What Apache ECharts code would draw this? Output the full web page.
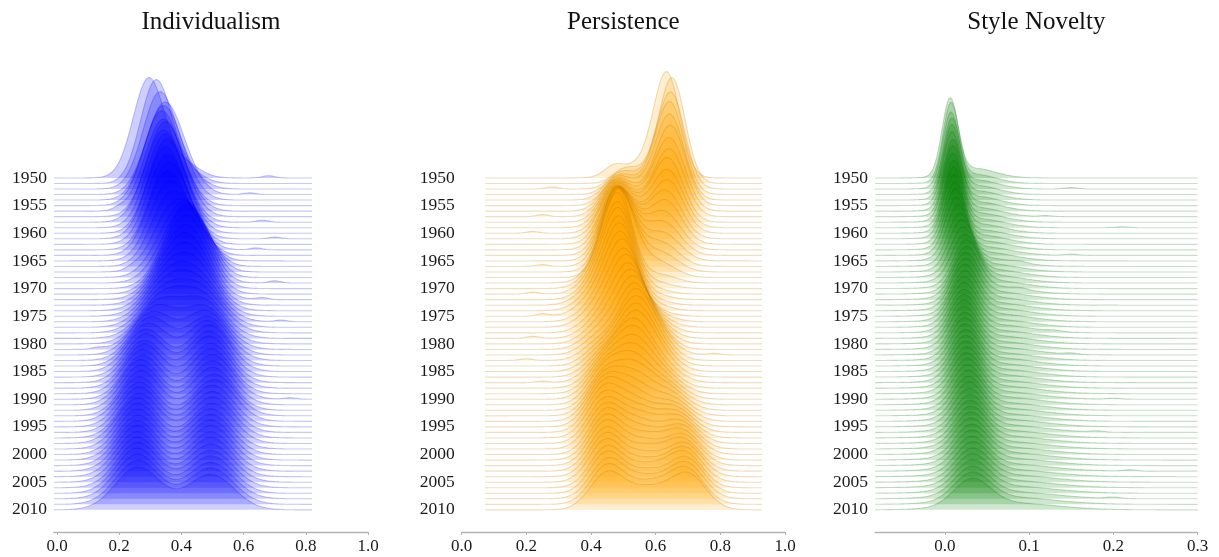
<!DOCTYPE html>
<html>
<head>
<meta charset="utf-8">
<script src="https://cdn.jsdelivr.net/npm/echarts@6/dist/echarts.min.js"></script>
<style>
  html, body { margin: 0; padding: 0; background: #ffffff; }
  #chart { width: 1219px; height: 557px; }
</style>
</head>
<body>
<div id="chart"></div>
<script>
// Years shown as ridges, top (1950) to bottom (2010)
const years = [];
for (let y = 1950; y <= 2010; y++) years.push(y);
const yearTicks = [1950, 1955, 1960, 1965, 1970, 1975, 1980, 1985, 1990, 1995, 2000, 2005, 2010];

const titles = ['Individualism', 'Persistence', 'Style Novelty'];
const xTicksInd = [0.0, 0.2, 0.4, 0.6, 0.8, 1.0];
const xTicksPer = [0.0, 0.2, 0.4, 0.6, 0.8, 1.0];
const xTicksNov = [0.0, 0.1, 0.2, 0.3];

// Individualism: yearly density as two normal components (A left, B right)
const indMeanA = [
  0.295,0.318,0.330,0.345,0.340,0.335,0.340,0.345,0.340,0.345,
  0.350,0.345,0.350,0.355,0.350,0.355,0.360,0.365,0.370,0.375,
  0.380,0.375,0.370,0.365,0.360,0.355,0.350,0.345,0.340,0.335,
  0.325,0.315,0.305,0.300,0.292,0.285,0.285,0.280,0.280,0.275,
  0.275,0.270,0.270,0.270,0.265,0.265,0.265,0.265,0.260,0.260,
  0.260,0.260,0.258,0.258,0.258,0.258,0.260,0.258,0.258,0.260,0.260];
const indSdA = [
  0.050,0.050,0.054,0.058,0.057,0.057,0.058,0.057,0.058,0.057,
  0.057,0.057,0.058,0.058,0.058,0.058,0.059,0.060,0.062,0.064,
  0.064,0.066,0.068,0.070,0.070,0.070,0.070,0.070,0.070,0.070,
  0.068,0.066,0.065,0.064,0.063,0.062,0.062,0.062,0.062,0.062,
  0.062,0.062,0.063,0.063,0.064,0.064,0.064,0.065,0.065,0.065,
  0.065,0.066,0.066,0.066,0.067,0.067,0.068,0.068,0.069,0.070,0.072];
const indMeanB = [
  0.410,0.420,0.430,0.425,0.420,0.420,0.425,0.420,0.420,0.425,
  0.425,0.430,0.435,0.440,0.445,0.450,0.455,0.455,0.450,0.445,
  0.440,0.440,0.440,0.440,0.445,0.450,0.455,0.460,0.465,0.465,
  0.470,0.475,0.480,0.485,0.485,0.490,0.490,0.490,0.495,0.495,
  0.500,0.500,0.500,0.505,0.505,0.500,0.500,0.500,0.500,0.495,
  0.495,0.495,0.495,0.495,0.495,0.495,0.495,0.495,0.495,0.495,0.495];
const indSdB = [
  0.050,0.050,0.050,0.050,0.050,0.050,0.050,0.050,0.050,0.050,
  0.050,0.050,0.050,0.050,0.052,0.053,0.054,0.055,0.056,0.058,
  0.060,0.062,0.064,0.066,0.068,0.070,0.072,0.072,0.072,0.072,
  0.070,0.070,0.068,0.068,0.067,0.066,0.066,0.066,0.066,0.066,
  0.066,0.066,0.066,0.068,0.068,0.068,0.068,0.068,0.068,0.068,
  0.068,0.068,0.068,0.068,0.068,0.070,0.070,0.070,0.072,0.072,0.074];
const indWeightB = [
  0.12,0.10,0.09,0.08,0.08,0.07,0.08,0.08,0.08,0.09,
  0.09,0.10,0.12,0.14,0.18,0.24,0.30,0.38,0.46,0.52,
  0.56,0.56,0.55,0.55,0.54,0.53,0.52,0.52,0.52,0.52,
  0.52,0.52,0.52,0.52,0.53,0.54,0.53,0.54,0.52,0.52,
  0.52,0.51,0.50,0.50,0.50,0.50,0.49,0.49,0.48,0.48,
  0.48,0.48,0.48,0.47,0.47,0.47,0.46,0.46,0.46,0.46,0.46];
// small isolated bumps in the tails (position, weight; 0 = none)
const indBumpAt = [
  0.68,0,0,0.62,0,0,0.20,0,0.66,0,
  0,0.70,0,0.64,0,0,0,0.24,0,0.70,
  0,0,0.66,0,0,0,0.72,0,0,0,
  0,0.13,0,0,0,0,0,0,0,0,
  0.75,0,0,0,0,0,0,0,0,0,
  0,0,0,0,0,0,0,0,0,0,0];
const indBumpWeight = [
  0.008,0,0,0.006,0,0,0.007,0,0.007,0,
  0,0.006,0,0.007,0,0,0,0.007,0,0.008,
  0,0,0.007,0,0,0,0.006,0,0,0,
  0,0.006,0,0,0,0,0,0,0,0,
  0.005,0,0,0,0,0,0,0,0,0,
  0,0,0,0,0,0,0,0,0,0,0];

// Persistence: three normal components (L left, M middle, R right)
const perMeanL = [
  0.470,0.500,0.490,0.485,0.480,0.480,0.475,0.475,0.475,0.475,
  0.475,0.475,0.478,0.478,0.480,0.480,0.480,0.482,0.482,0.430,
  0.425,0.420,0.420,0.415,0.415,0.415,0.420,0.420,0.425,0.425,
  0.425,0.425,0.425,0.428,0.430,0.430,0.432,0.432,0.435,0.435,
  0.435,0.438,0.440,0.440,0.440,0.440,0.440,0.440,0.442,0.442,
  0.445,0.445,0.445,0.445,0.445,0.445,0.448,0.448,0.450,0.450,0.450];
const perSdL = [
  0.030,0.035,0.038,0.040,0.042,0.043,0.044,0.045,0.046,0.047,
  0.047,0.048,0.048,0.048,0.048,0.048,0.048,0.048,0.048,0.050,
  0.050,0.050,0.050,0.052,0.052,0.052,0.052,0.052,0.052,0.050,
  0.050,0.050,0.050,0.050,0.050,0.050,0.050,0.050,0.050,0.050,
  0.050,0.050,0.051,0.051,0.052,0.052,0.052,0.052,0.052,0.052,
  0.051,0.051,0.051,0.051,0.051,0.051,0.051,0.051,0.052,0.052,0.053];
const perWeightL = [
  0.05,0.07,0.10,0.13,0.16,0.20,0.24,0.28,0.32,0.36,
  0.40,0.44,0.48,0.52,0.56,0.60,0.64,0.68,0.72,0.14,
  0.18,0.19,0.20,0.20,0.20,0.20,0.19,0.19,0.18,0.18,
  0.18,0.18,0.18,0.19,0.19,0.20,0.21,0.22,0.24,0.26,
  0.28,0.31,0.34,0.37,0.40,0.42,0.43,0.43,0.43,0.43,
  0.43,0.43,0.43,0.42,0.42,0.41,0.40,0.40,0.39,0.39,0.38];
const perMeanM = [
  0.560,0.580,0.580,0.580,0.570,0.575,0.570,0.565,0.565,0.560,
  0.560,0.555,0.555,0.550,0.550,0.545,0.545,0.540,0.540,0.483,
  0.485,0.487,0.488,0.490,0.492,0.495,0.500,0.505,0.510,0.515,
  0.520,0.525,0.530,0.535,0.535,0.535,0.535,0.530,0.530,0.530,
  0.530,0.530,0.535,0.535,0.535,0.535,0.540,0.545,0.550,0.550,
  0.555,0.560,0.560,0.565,0.565,0.565,0.570,0.570,0.570,0.575,0.575];
const perSdM = [
  0.065,0.060,0.060,0.060,0.060,0.060,0.060,0.060,0.060,0.060,
  0.060,0.060,0.060,0.060,0.060,0.060,0.060,0.060,0.060,0.045,
  0.045,0.046,0.046,0.047,0.047,0.048,0.049,0.050,0.050,0.050,
  0.050,0.050,0.050,0.050,0.052,0.052,0.053,0.053,0.054,0.055,
  0.055,0.055,0.055,0.055,0.055,0.055,0.056,0.056,0.056,0.056,
  0.056,0.056,0.056,0.056,0.056,0.058,0.058,0.058,0.060,0.060,0.060];
const perWeightM = [
  0.17,0.15,0.15,0.14,0.14,0.13,0.14,0.14,0.14,0.14,
  0.14,0.14,0.14,0.13,0.13,0.13,0.12,0.12,0.12,0.78,
  0.76,0.76,0.75,0.75,0.74,0.74,0.73,0.71,0.70,0.68,
  0.66,0.64,0.64,0.63,0.63,0.62,0.61,0.60,0.58,0.55,
  0.52,0.48,0.44,0.40,0.36,0.33,0.31,0.30,0.29,0.28,
  0.27,0.26,0.25,0.25,0.24,0.24,0.24,0.24,0.24,0.24,0.24];
const perMeanR = [
  0.635,0.652,0.648,0.645,0.645,0.648,0.645,0.645,0.640,0.640,
  0.640,0.635,0.635,0.630,0.630,0.630,0.625,0.625,0.620,0.615,
  0.600,0.590,0.590,0.590,0.590,0.590,0.600,0.600,0.600,0.600,
  0.600,0.600,0.610,0.610,0.610,0.615,0.615,0.620,0.620,0.625,
  0.630,0.635,0.640,0.645,0.650,0.655,0.660,0.665,0.670,0.675,
  0.680,0.680,0.685,0.685,0.690,0.690,0.690,0.695,0.695,0.695,0.700];
const perSdR = [
  0.040,0.040,0.042,0.043,0.044,0.045,0.046,0.046,0.046,0.047,
  0.047,0.048,0.048,0.050,0.050,0.050,0.050,0.050,0.050,0.050,
  0.050,0.050,0.050,0.050,0.050,0.050,0.050,0.050,0.050,0.050,
  0.050,0.050,0.050,0.050,0.052,0.052,0.052,0.054,0.054,0.055,
  0.055,0.055,0.055,0.055,0.055,0.055,0.055,0.055,0.055,0.054,
  0.054,0.054,0.054,0.054,0.053,0.053,0.053,0.053,0.054,0.054,0.055];
const perWeightR = [
  0.78,0.78,0.75,0.72,0.68,0.65,0.60,0.56,0.52,0.48,
  0.44,0.40,0.36,0.32,0.27,0.22,0.18,0.14,0.10,0.08,
  0.06,0.05,0.05,0.05,0.06,0.06,0.08,0.10,0.12,0.14,
  0.16,0.18,0.18,0.18,0.18,0.18,0.18,0.18,0.18,0.19,
  0.20,0.21,0.22,0.23,0.24,0.25,0.26,0.27,0.28,0.29,
  0.30,0.31,0.32,0.33,0.34,0.35,0.36,0.36,0.37,0.37,0.38];
const perBumpAt = [
  0,0,0.28,0,0,0,0,0.25,0,0,
  0.22,0,0,0,0,0,0.25,0,0,0,
  0,0.22,0,0,0,0.25,0,0,0,0.22,
  0,0,0.78,0.20,0,0,0,0.25,0,0,
  0,0,0,0,0,0,0,0,0,0,
  0,0,0,0,0,0,0,0,0,0,0];
const perBumpWeight = [
  0,0,0.008,0,0,0,0,0.008,0,0,
  0.007,0,0,0,0,0,0.007,0,0,0,
  0,0.008,0,0,0,0.010,0,0,0,0.008,
  0,0,0.006,0.007,0,0,0,0.006,0,0,
  0,0,0,0,0,0,0,0,0,0,
  0,0,0,0,0,0,0,0,0,0,0];

// Style Novelty: sharp main component A plus a wide right-hand tail B
const novMeanA = [
  0.006,0.007,0.007,0.008,0.008,0.008,0.009,0.009,0.009,0.010,
  0.010,0.010,0.011,0.012,0.013,0.015,0.017,0.019,0.021,0.023,
  0.025,0.025,0.024,0.024,0.023,0.023,0.022,0.022,0.022,0.022,
  0.022,0.022,0.023,0.023,0.023,0.024,0.024,0.024,0.025,0.025,
  0.026,0.026,0.027,0.027,0.028,0.028,0.029,0.029,0.030,0.030,
  0.030,0.031,0.031,0.031,0.032,0.032,0.032,0.032,0.032,0.032,0.032];
const novSdA = [
  0.0095,0.0095,0.0098,0.0100,0.0100,0.0102,0.0105,0.0105,0.0108,0.0110,
  0.0112,0.0115,0.0118,0.0120,0.0125,0.0130,0.0135,0.0140,0.0145,0.0150,
  0.0150,0.0152,0.0154,0.0155,0.0156,0.0157,0.0158,0.0160,0.0160,0.0160,
  0.0160,0.0162,0.0163,0.0164,0.0165,0.0166,0.0167,0.0168,0.0169,0.0170,
  0.0170,0.0172,0.0173,0.0175,0.0176,0.0178,0.0180,0.0182,0.0184,0.0186,
  0.0188,0.0190,0.0192,0.0194,0.0196,0.0198,0.0200,0.0203,0.0206,0.0210,0.0215];
const novMeanB = [
  0.035,0.035,0.036,0.036,0.037,0.037,0.038,0.038,0.039,0.040,
  0.040,0.041,0.042,0.043,0.045,0.047,0.048,0.050,0.052,0.053,
  0.055,0.055,0.056,0.056,0.057,0.057,0.058,0.058,0.059,0.060,
  0.060,0.060,0.061,0.061,0.062,0.062,0.063,0.063,0.064,0.065,
  0.065,0.066,0.066,0.067,0.067,0.068,0.068,0.069,0.069,0.070,
  0.070,0.071,0.071,0.072,0.072,0.073,0.073,0.074,0.074,0.075,0.075];
const novSdB = [
  0.025,0.025,0.026,0.026,0.027,0.027,0.028,0.028,0.029,0.030,
  0.030,0.031,0.031,0.032,0.033,0.034,0.035,0.036,0.037,0.038,
  0.038,0.039,0.039,0.040,0.040,0.040,0.041,0.041,0.041,0.042,
  0.042,0.042,0.043,0.043,0.043,0.044,0.044,0.044,0.045,0.045,
  0.045,0.046,0.046,0.047,0.047,0.048,0.048,0.049,0.049,0.050,
  0.050,0.050,0.051,0.051,0.052,0.052,0.053,0.053,0.054,0.054,0.055];
const novWeightB = [
  0.25,0.24,0.25,0.25,0.26,0.26,0.27,0.27,0.28,0.28,
  0.29,0.29,0.30,0.30,0.30,0.31,0.31,0.31,0.32,0.32,
  0.32,0.32,0.33,0.33,0.33,0.34,0.34,0.34,0.35,0.35,
  0.35,0.35,0.35,0.35,0.36,0.36,0.36,0.36,0.36,0.36,
  0.36,0.37,0.37,0.37,0.37,0.38,0.38,0.38,0.38,0.38,
  0.38,0.39,0.39,0.39,0.39,0.40,0.40,0.40,0.40,0.40,0.40];
const novBumpAt = [
  0,0,0.15,0,0,0,0,0.12,0,0.21,
  0,0,0,0,0.15,0,0.09,0,0,0,
  0,0.09,0,0,0,0,0,0,0.13,0,
  0,0,0.15,0,0,0,0,0,0,0,
  0.20,0,0,0,0,0,0.18,0,0,0,
  0,0,0,0.22,0,0,0,0,0.20,0,0];
const novBumpWeight = [
  0,0,0.012,0,0,0,0,0.008,0,0.008,
  0,0,0,0,0.010,0,0.012,0,0,0,
  0,0.012,0,0,0,0,0,0,0.010,0,
  0,0,0.010,0,0,0,0,0,0,0,
  0.008,0,0,0,0,0,0.010,0,0,0,
  0,0,0,0.010,0,0,0,0,0.012,0,0];

// ---- panel setup ----
const SERIF = '"Liberation Serif", "Times New Roman", serif';
const panels = [
  {
    rgb: [0, 0, 255], line: 'rgba(0,0,230,0.22)',
    dataRange: [-0.01, 0.82], axisMin: -0.01, axisMax: 1.0, ticks: xTicksInd,
    left: 53.9, width: 314.1, heightScale: 2.58, bumpSd: 0.02,
    components: i => [
      { m: indMeanA[i], s: indSdA[i], w: 1 - indWeightB[i] },
      { m: indMeanB[i], s: indSdB[i], w: indWeightB[i] }
    ],
    bump: i => ({ m: indBumpAt[i], w: indBumpWeight[i] })
  },
  {
    rgb: [255, 165, 0], line: 'rgba(190,120,0,0.24)',
    dataRange: [0.072, 0.929], axisMin: 0.0, axisMax: 1.0, ticks: xTicksPer,
    left: 461.7, width: 323.3, heightScale: 2.31, bumpSd: 0.02,
    components: i => [
      { m: perMeanL[i], s: perSdL[i], w: perWeightL[i] },
      { m: perMeanM[i], s: perSdM[i], w: perWeightM[i] },
      { m: perMeanR[i], s: perSdR[i], w: perWeightR[i] }
    ],
    bump: i => ({ m: perBumpAt[i], w: perBumpWeight[i] })
  },
  {
    rgb: [0, 128, 0], line: 'rgba(0,110,0,0.22)',
    dataRange: [-0.083, 0.30], axisMin: -0.083, axisMax: 0.30, ticks: xTicksNov,
    left: 875.1, width: 322.5, heightScale: 0.432, bumpSd: 0.008,
    components: i => [
      { m: novMeanA[i], s: novSdA[i], w: 1 - novWeightB[i] },
      { m: novMeanB[i], s: novSdB[i], w: novWeightB[i] }
    ],
    bump: i => ({ m: novBumpAt[i], w: novBumpWeight[i] })
  }
];

const GRID_TOP = 67.3, GRID_HEIGHT = 464.7;   // y axis spans -4 .. 80 rows
const Y_MIN = -4, Y_MAX = 80;
const N_PTS = 240;
const SQRT2PI = Math.sqrt(2 * Math.PI);

function density(x, comps) {
  let tot = 0, d = 0;
  for (const c of comps) tot += c.w;
  for (const c of comps) {
    if (!c.w) continue;
    const z = (x - c.m) / c.s;
    d += (c.w / tot) * Math.exp(-0.5 * z * z) / (c.s * SQRT2PI);
  }
  return d;
}

// Ridge outlines in axis units: x value, row baseline + scaled density
const ridges = panels.map(p => years.map((yr, i) => {
  const b = p.bump(i);
  const comps = p.components(i).concat(b.w ? [{ m: b.m, s: p.bumpSd, w: b.w }] : []);
  const base = 2010 - yr;
  const pts = [];
  const [lo, hi] = p.dataRange;
  for (let k = 0; k <= N_PTS; k++) {
    const x = lo + (hi - lo) * k / N_PTS;
    pts.push([x, base + density(x, comps) * p.heightScale]);
  }
  return pts;
}));

const option = {
  animation: false,
  backgroundColor: '#ffffff',
  graphic: titles.map((t, k) => ({
    type: 'text',
    x: panels[k].left + panels[k].width / 2,
    y: 22,
    style: {
      text: t, fill: '#111111', font: '25px ' + SERIF,
      align: 'center', verticalAlign: 'middle'
    }
  })),
  grid: panels.map(p => ({ left: p.left, width: p.width, top: GRID_TOP, height: GRID_HEIGHT })),
  xAxis: panels.map((p, k) => ({
    type: 'value', gridIndex: k, min: p.axisMin, max: p.axisMax,
    axisLine: { show: true, onZero: false, lineStyle: { color: '#b3b3b3', width: 1.3 } },
    axisTick: { show: true, customValues: p.ticks, length: 3, lineStyle: { color: '#b3b3b3', width: 1 } },
    axisLabel: {
      customValues: p.ticks, formatter: v => Number(v).toFixed(1),
      fontFamily: SERIF, fontSize: 17, color: '#1a1a1a', margin: 6
    },
    splitLine: { show: false }
  })),
  yAxis: panels.map((p, k) => ({
    type: 'value', gridIndex: k, min: Y_MIN, max: Y_MAX,
    axisLine: { show: false }, axisTick: { show: false }, splitLine: { show: false },
    axisLabel: {
      customValues: yearTicks.map(y => 2010 - y),
      formatter: v => String(2010 - Math.round(v)),
      fontFamily: SERIF, fontSize: 17.5, color: '#1a1a1a', margin: 7
    }
  })),
  series: panels.map((p, k) => {
    const fill = 'rgba(' + p.rgb.join(',') + ',0.19)';
    return {
      type: 'custom', coordinateSystem: 'cartesian2d', xAxisIndex: k, yAxisIndex: k,
      clip: false, silent: true,
      data: years.map((yr, i) => [p.dataRange[0], 2010 - yr, i]),
      encode: { x: 0, y: 1 },
      renderItem: (params, api) => {
        const i = api.value(2);
        const base = 2010 - years[i];
        const pts = ridges[k][i].map(pt => api.coord(pt));
        const poly = pts.concat([api.coord([p.dataRange[1], base]), api.coord([p.dataRange[0], base])]);
        return {
          type: 'group',
          children: [
            { type: 'polygon', shape: { points: poly }, style: { fill: fill, stroke: null } },
            { type: 'polyline', shape: { points: pts }, style: { fill: null, stroke: p.line, lineWidth: 1.1 } }
          ]
        };
      }
    };
  })
};

const chart = echarts.init(document.getElementById('chart'), null, { renderer: 'canvas' });
chart.setOption(option);
</script>
</body>
</html>
